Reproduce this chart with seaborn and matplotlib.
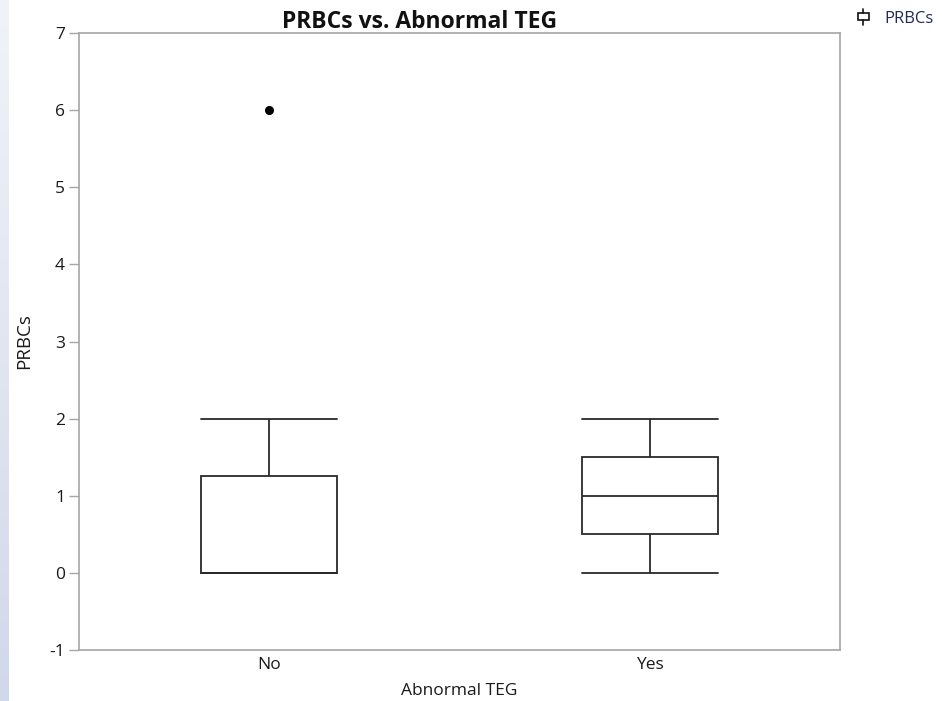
import numpy as np
import pandas as pd
import matplotlib
matplotlib.use("Agg")
import matplotlib.pyplot as plt
import seaborn as sns
from matplotlib.patches import Rectangle

# Data (individual PRBC counts reproducing the box summaries)
categories = ["No", "Yes"]
prbcs_no = [0, 0, 0, 0, 0, 0, 0, 1, 1, 2, 2, 6]
prbcs_yes = [0, 0, 1, 1, 1, 2, 2]
y_ticks = [-1, 0, 1, 2, 3, 4, 5, 6, 7]

df = pd.DataFrame({
    "Abnormal TEG": ["No"] * len(prbcs_no) + ["Yes"] * len(prbcs_yes),
    "PRBCs": prbcs_no + prbcs_yes,
})

sns.set_theme(style="white")
plt.rcParams["font.family"] = ["Open Sans", "DejaVu Sans"]

W, H = 942, 701
fig = plt.figure(figsize=(W / 100, H / 100), dpi=100)
ax = fig.add_axes([79 / W, 1 - 650 / H, (840 - 79) / W, (650 - 33) / H])

line_col = "#2a2a2a"
sns.boxplot(
    data=df, x="Abnormal TEG", y="PRBCs", order=categories, ax=ax,
    width=0.357, color="white", linecolor=line_col, linewidth=1.3,
    whis=1.5, fliersize=5.5,
    flierprops=dict(marker="o", markerfacecolor="black", markeredgecolor="black"),
    capwidths=0.357,
)

ax.set_xlim(-0.5, 1.5)
ax.set_ylim(-1, 7)
ax.set_yticks(y_ticks)
ax.set_yticklabels([str(t) for t in y_ticks])

spine_col = "#a6a6a6"
for s in ax.spines.values():
    s.set_visible(True)
    s.set_color(spine_col)
    s.set_linewidth(1.2)
txt_col = "#1a1a1a"
ax.tick_params(axis="y", left=True, direction="out", length=7, width=1.0, color=spine_col,
               labelsize=12.5, labelcolor=txt_col, pad=3)
ax.tick_params(axis="x", bottom=False, length=0, labelsize=12.5, labelcolor=txt_col, pad=5)
ax.set_xlabel("Abnormal TEG", fontsize=12.5, color=txt_col, labelpad=7)
ax.set_ylabel("PRBCs", fontsize=13.5, color=txt_col, labelpad=12)

fig.text(420 / W, 1 - 22 / H, "PRBCs vs. Abnormal TEG", ha="center", va="center",
         fontsize=16.5, fontweight="bold", color="#111111")

# Legend glyph (vertical box icon)
lax = fig.add_axes([0, 0, 1, 1], facecolor="none")
lax.set_xlim(0, W)
lax.set_ylim(H, 0)
lax.axis("off")
lax.add_patch(Rectangle((857.5, 13), 11, 7, fill=False, edgecolor="#111111", lw=1.2))
lax.plot([863, 863], [9, 13], color="#111111", lw=1.2)
lax.plot([863, 863], [20, 24.5], color="#111111", lw=1.2)
fig.text(884 / W, 1 - 19 / H, "PRBCs", ha="left", va="center", fontsize=12, color="#1f2a5a")

# Left gradient strip
sax = fig.add_axes([0, 0, 9 / W, 1])
grad = np.linspace(0, 1, 256).reshape(-1, 1)
cmap = matplotlib.colors.LinearSegmentedColormap.from_list("g", ["#f1f3f9", "#d1d8ea"])
sax.imshow(grad, aspect="auto", cmap=cmap, extent=[0, 1, 1, 0])
sax.axis("off")

fig.savefig("out.png", dpi=100)
